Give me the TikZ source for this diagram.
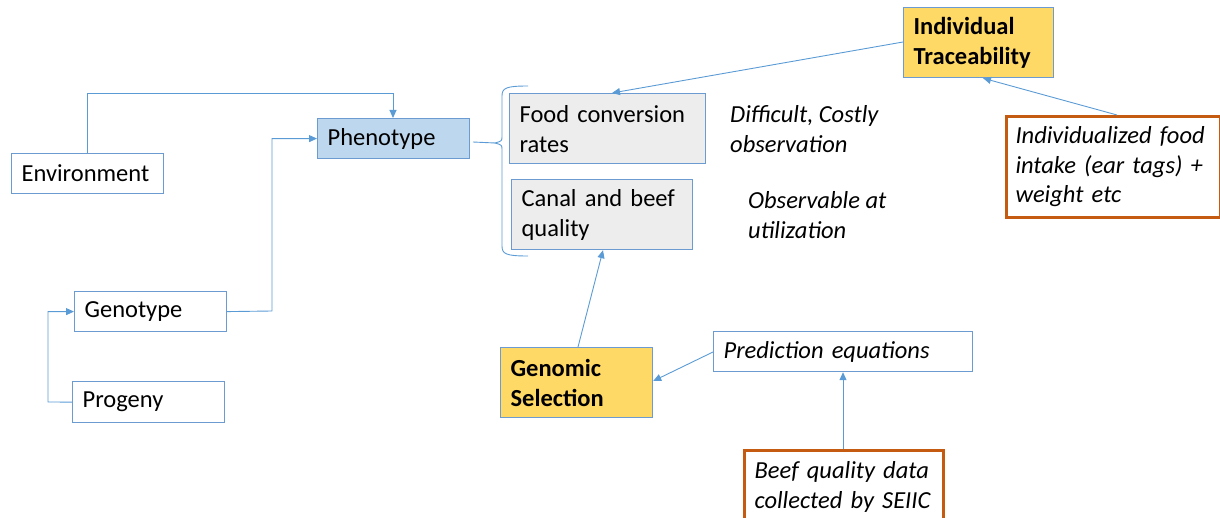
\documentclass[tikz,border=0pt]{standalone}
\usepackage{fontspec}
\setmainfont{Carlito}
\usetikzlibrary{arrows.meta}
\definecolor{bord}{HTML}{6C9BD2}
\definecolor{conn}{HTML}{5B9BD5}
\definecolor{phen}{HTML}{BDD7EE}
\definecolor{grayf}{HTML}{EDEDED}
\definecolor{yel}{HTML}{FFD966}
\definecolor{orng}{HTML}{C55A11}
\tikzset{
  box/.style={draw=bord, line width=1.2pt, rectangle, inner xsep=10pt, inner ysep=0pt,
    align=left, font=\fontsize{24.5}{30}\selectfont, anchor=north west},
  obox/.style={box, draw=orng, line width=3pt},
  lab/.style={align=left, font=\fontsize{24.5}{30}\selectfont\itshape, anchor=west, inner sep=0pt},
  conn/.style={draw=conn, line width=0.9pt},
  arr/.style={conn, -{Triangle[length=8pt,width=7pt]}}
}
\begin{document}
\begin{tikzpicture}[x=1pt,y=-1pt]
\useasboundingbox (0,0) rectangle (1220,518);
% left part
\node[box, fill=white, text width=132pt, minimum height=40pt] (env) at (11,153) {Environment};
\node[box, fill=phen, text width=132pt, minimum height=40pt] (phen) at (317,118) {Phenotype};
\node[box, fill=white, text width=132pt, minimum height=40pt] (geno) at (74,291) {Genotype};
\node[box, fill=white, text width=132pt, minimum height=41pt] (prog) at (72,381) {Progeny};
% middle boxes
\node[box, fill=grayf, text width=176pt, minimum height=70pt] (food) at (509,93) {Food conversion\\rates};
\node[box, fill=grayf, text width=161pt, minimum height=70pt] (canal) at (511,179) {Canal and beef\\quality};
\node[lab] (diff) at (730,129) {Difficult, Costly\\observation};
\node[lab] (obs) at (748,215) {Observable at\\utilization};
% right boxes
\node[box, fill=yel, text width=130pt, minimum height=70pt, font=\fontsize{24.5}{30}\selectfont\bfseries] (trace) at (903,7) {Individual\\Traceability};
\node[obox, fill=white, inner xsep=9pt, text width=196pt, minimum height=101pt, font=\fontsize{24.5}{29.5}\selectfont\itshape] (indiv) at (1005,115) {Individualized food\\intake (ear tags) +\\weight etc};
\node[box, fill=yel, text width=132pt, minimum height=70pt, font=\fontsize{24.5}{30}\selectfont\bfseries] (gen) at (500,347) {Genomic\\Selection};
\node[box, fill=white, text width=239pt, minimum height=40pt, font=\fontsize{24.5}{30}\selectfont\itshape] (pred) at (713,331) {Prediction equations};
\node[obox, fill=white, text width=179pt, minimum height=72pt, font=\fontsize{24.5}{30}\selectfont\itshape] (beef) at (743,449) {Beef quality data\\collected by SEIIC};
% connectors
\draw[arr] (env.north -| 87,0) |- (393,93) -- (phen.north -| 393,0);
\draw[arr] (geno.east) -- (272,311) |- (phen.west);
\draw[arr] (prog.west) -- (48,402) |- (geno.west);
% brace
\coordinate (tip) at (495,143);
\coordinate (pstart) at (473,142);
\draw[conn] (pstart) -- (tip);
\draw[conn] (528,86) .. controls (506,86) and (502,88) .. (502,96) -- (502,136) .. controls (502,141) .. (tip)
  .. controls (502,145) .. (502,150) -- (502,246) .. controls (502,254) and (506,256) .. (528,256);
% arrows
\draw[arr] (trace.west |- 0,42) -- (food.north -| 612,0);
\draw[arr] (indiv.north -| 1117,0) -- (trace.south -| 983,0);
\draw[arr] (gen.north -| 578,0) -- (canal.south -| 603,0);
\draw[arr] (pred.west |- 0,352) -- (gen.east |- 0,381);
\draw[arr] (beef.north -| 843,0) -- (pred.south -| 843,0);
\end{tikzpicture}
\end{document}
